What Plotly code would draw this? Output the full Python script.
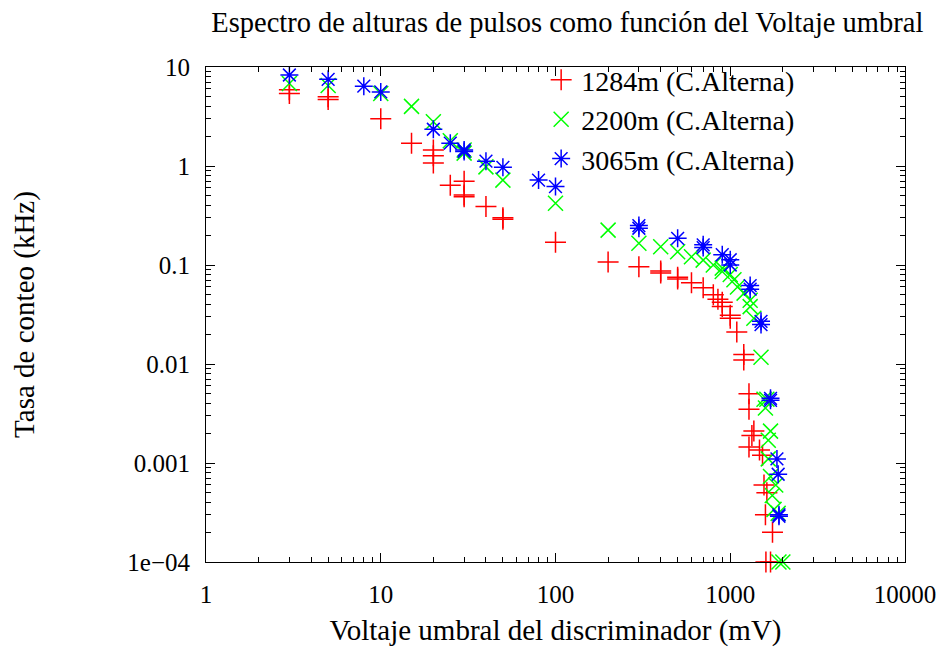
import plotly.graph_objects as go

# 1284m (C.Alterna)
x_1284 = [3, 3, 5, 5, 10, 15, 20, 20, 20, 25, 30, 30, 30, 40, 50, 50, 100,
          200, 300, 400, 400, 500, 500, 600, 700, 800, 850, 900, 900, 1000, 1000,
          1090, 1195, 1195, 1280, 1280, 1365, 1330, 1280, 1470, 1530,
          1560, 1620, 1590, 1745, 1600, 1700]
y_1284 = [5.9, 5.4, 5.0, 4.7, 3.0, 1.7, 1.45, 1.27, 1.07, 0.64, 0.7, 0.51, 0.49, 0.39, 0.30, 0.29, 0.17,
          0.107, 0.096, 0.087, 0.083, 0.075, 0.072, 0.066, 0.059, 0.05, 0.045, 0.042, 0.038, 0.031, 0.029,
          0.021, 0.0125, 0.011, 0.005, 0.0035, 0.0021, 0.0019, 0.00145, 0.00135, 0.0012,
          0.0006, 0.0005, 0.0003, 0.0002, 0.0001, 0.0001]

# 2200m (C.Alterna)
x_2200 = [3, 5, 10, 15, 20, 25, 30, 30, 40, 50, 100,
          200, 300, 400, 500, 600, 700, 800, 900, 900, 1000, 1050, 1100, 1200, 1300, 1300,
          1365, 1500, 1560, 1620, 1590, 1700, 1650, 1650, 1700,
          1820, 1740, 1780, 1880, 1900, 2000]
y_2200 = [6.8, 6.5, 5.4, 4.0, 2.8, 1.8, 1.45, 1.35, 0.98, 0.72, 0.42,
          0.225, 0.166, 0.153, 0.136, 0.121, 0.112, 0.1, 0.093, 0.086, 0.08, 0.071, 0.06, 0.052, 0.044, 0.038,
          0.029, 0.0117, 0.0044, 0.0044, 0.0036, 0.0021, 0.0017, 0.0011, 0.00073,
          0.0006, 0.00047, 0.00034, 0.00031, 0.0001, 0.0001]

# 3065m (C.Alterna)
x_3065 = [3, 5, 8, 10, 20, 25, 30, 30, 40, 50, 80, 100,
          300, 300, 500, 700, 700, 900, 1000, 1000, 1300, 1300, 1500, 1500,
          1700, 1700, 1850, 1880, 1900, 1900]
y_3065 = [8.3, 7.5, 6.4, 5.6, 2.35, 1.7, 1.45, 1.4, 1.12, 0.97, 0.72, 0.62,
          0.25, 0.235, 0.186, 0.16, 0.15, 0.127, 0.113, 0.1, 0.062, 0.057, 0.027, 0.025,
          0.0045, 0.0043, 0.0011, 0.00077, 0.0003, 0.00029]

x_ticks = [1, 10, 100, 1000, 10000]
x_ticktext = ["1", "10", "100", "1000", "10000"]
y_ticks = [1e-4, 1e-3, 0.01, 0.1, 1, 10]
y_ticktext = ["1e\u221204", "0.001", "0.01", "0.1", "1", "10"]

serif = "Liberation Serif, Times New Roman, serif"

fig = go.Figure()
fig.add_trace(go.Scatter(
    x=x_1284, y=y_1284, mode="markers", name="1284m (C.Alterna)", cliponaxis=False,
    marker=dict(symbol="cross-thin-open", size=15, color="#ff0000",
                line=dict(color="#ff0000", width=1.5))))
fig.add_trace(go.Scatter(
    x=x_2200, y=y_2200, mode="markers", name="2200m (C.Alterna)", cliponaxis=False,
    marker=dict(symbol="x-thin-open", size=15, color="#00ff00",
                line=dict(color="#00ff00", width=1.5))))
fig.add_trace(go.Scatter(
    x=x_3065, y=y_3065, mode="markers", name="3065m (C.Alterna)", cliponaxis=False,
    marker=dict(symbol="asterisk-open", size=15, color="#0000ff",
                line=dict(color="#0000ff", width=1.5))))

axis_common = dict(
    type="log", showgrid=False, zeroline=False, showline=True, linecolor="black",
    linewidth=1, mirror="ticks", ticks="inside", ticklen=9, tickcolor="black",
    automargin=False, ticklabelstandoff=10,
    minor=dict(ticks="inside", ticklen=5, dtick="D1", tickcolor="black", showgrid=False),
    tickfont=dict(family=serif, size=25, color="black"),
)

fig.update_xaxes(axis_common, range=[0, 4], tickvals=x_ticks, ticktext=x_ticktext,
                 title=dict(text="Voltaje umbral del discriminador (mV)",
                            font=dict(family=serif, size=29, color="black"), standoff=12))
fig.update_yaxes(axis_common, range=[-4, 1], tickvals=y_ticks, ticktext=y_ticktext,
                 title=dict(text="Tasa de conteo (kHz)",
                            font=dict(family=serif, size=29, color="black"), standoff=84))

# the page body adds 8px around the plot, so the figure is 8px smaller each way
fig.update_layout(
    width=940, height=646,
    margin=dict(l=198, r=43, t=59, b=92),
    font=dict(family=serif, color="black"),
    paper_bgcolor="white", plot_bgcolor="white",
    title=dict(text="Espectro de alturas de pulsos como funci\u00f3n del Voltaje umbral",
               x=0.595, xanchor="center", y=0.978, yanchor="middle",
               font=dict(family=serif, size=28.5, color="black")),
    legend=dict(x=0.85, xanchor="right", y=1.024, yanchor="top",
                bgcolor="rgba(0,0,0,0)", font=dict(family=serif, size=28, color="black"),
                tracegroupgap=0),
    showlegend=True,
)

fig.write_html("out.html")
